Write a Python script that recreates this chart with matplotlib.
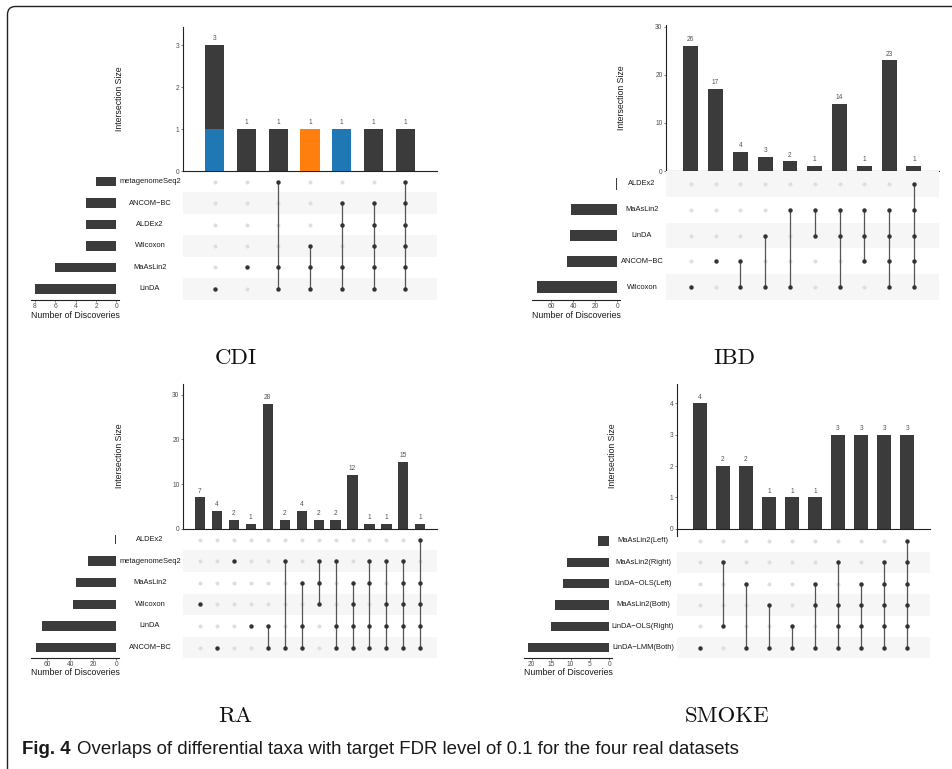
import numpy as np
import matplotlib
matplotlib.use("Agg")
import matplotlib.pyplot as plt
from matplotlib.path import Path
from matplotlib.patches import PathPatch
from matplotlib.lines import Line2D
import matplotlib.transforms as mtrans

# ---------------- data ----------------
MINUS = "\u2212"
ANC = "ANCOM" + MINUS + "BC"

CDI_SETS = ["metagenomeSeq2", ANC, "ALDEx2", "Wilcoxon", "MaAsLin2", "LinDA"]  # top -> bottom
CDI_SET_SIZES = [2, 3, 3, 3, 6, 8]
CDI_MEMBERS = [
    ["LinDA"],
    ["MaAsLin2"],
    ["metagenomeSeq2", "MaAsLin2", "LinDA"],
    ["Wilcoxon", "MaAsLin2", "LinDA"],
    [ANC, "ALDEx2", "MaAsLin2", "LinDA"],
    [ANC, "ALDEx2", "Wilcoxon", "MaAsLin2", "LinDA"],
    ["metagenomeSeq2", ANC, "ALDEx2", "Wilcoxon", "MaAsLin2", "LinDA"],
]
CDI_COUNTS = [3, 1, 1, 1, 1, 1, 1]
CDI_HL_VALUES = [1, 0, 0, 1, 1, 0, 0]
CDI_HL_COLORS = ["#1f77b4", None, None, "#ff7f0e", "#1f77b4", None, None]

IBD_SETS = ["ALDEx2", "MaAsLin2", "LinDA", ANC, "Wilcoxon"]
IBD_SET_SIZES = [1, 42, 43, 46, 73]
IBD_MEMBERS = [
    ["Wilcoxon"],
    [ANC],
    [ANC, "Wilcoxon"],
    ["LinDA", "Wilcoxon"],
    ["MaAsLin2", "Wilcoxon"],
    ["MaAsLin2", "LinDA"],
    ["MaAsLin2", "LinDA", "Wilcoxon"],
    ["MaAsLin2", "LinDA", ANC],
    ["MaAsLin2", "LinDA", ANC, "Wilcoxon"],
    ["ALDEx2", "MaAsLin2", "LinDA", ANC, "Wilcoxon"],
]
IBD_COUNTS = [26, 17, 4, 3, 2, 1, 14, 1, 23, 1]

RA_SETS = ["ALDEx2", "metagenomeSeq2", "MaAsLin2", "Wilcoxon", "LinDA", ANC]
RA_SET_SIZES = [1, 25, 35, 38, 65, 70]
RA_MEMBERS = [
    ["Wilcoxon"],
    [ANC],
    ["metagenomeSeq2"],
    ["LinDA"],
    ["LinDA", ANC],
    ["metagenomeSeq2", ANC],
    ["MaAsLin2", "LinDA", ANC],
    ["metagenomeSeq2", "MaAsLin2", "Wilcoxon"],
    ["metagenomeSeq2", "LinDA", ANC],
    ["MaAsLin2", "Wilcoxon", "LinDA", ANC],
    ["metagenomeSeq2", "MaAsLin2", "LinDA", ANC],
    ["metagenomeSeq2", "Wilcoxon", "LinDA", ANC],
    ["metagenomeSeq2", "MaAsLin2", "Wilcoxon", "LinDA", ANC],
    ["ALDEx2", "MaAsLin2", "Wilcoxon", "LinDA", ANC],
]
RA_COUNTS = [7, 4, 2, 1, 28, 2, 4, 2, 2, 12, 1, 1, 15, 1]

ML, MR, MB = "MaAsLin2(Left)", "MaAsLin2(Right)", "MaAsLin2(Both)"
LOL, LOR = "LinDA" + MINUS + "OLS(Left)", "LinDA" + MINUS + "OLS(Right)"
LMM = "LinDA" + MINUS + "LMM(Both)"
SM_SETS = [ML, MR, LOL, MB, LOR, LMM]
SM_SET_SIZES = [3, 11, 12, 14, 15, 21]
SM_MEMBERS = [
    [LMM],
    [MR, LOR],
    [LOL, LMM],
    [MB, LMM],
    [LOR, LMM],
    [LOL, MB, LMM],
    [MR, MB, LOR, LMM],
    [LOL, MB, LOR, LMM],
    [MR, LOL, MB, LOR, LMM],
    [ML, MR, LOL, MB, LOR, LMM],
]
SM_COUNTS = [4, 2, 2, 1, 1, 1, 3, 3, 3, 3]

TITLES = ["CDI", "IBD", "RA", "SMOKE"]
CAPTION_BOLD = "Fig. 4"
CAPTION_TEXT = "Overlaps of differential taxa with target FDR level of 0.1 for the four real datasets"

# ---------------- style ----------------
W, H = 952, 769
DARK = "#3b3b3b"
LIGHTDOT = "#dedede"
SHADE = "#f6f6f6"
TICKC = "#4d4d4d"
SANS = "Liberation Sans"

fig = plt.figure(figsize=(W / 100, H / 100), dpi=100)


def fbox(x0, y0, x1, y1):
    return [x0 / W, 1 - y1 / H, (x1 - x0) / W, (y1 - y0) / H]


def fx(x):
    return x / W


def fy(y):
    return 1 - y / H


def draw_upset(sets, set_sizes, members, counts, geo, hl_vals=None, hl_cols=None):
    n = len(counts)
    m = len(sets)
    xs = np.arange(n)
    # intersection bars
    axb = fig.add_axes(fbox(*geo["bar"]))
    axb.bar(xs, counts, width=0.6, color=DARK, zorder=2, linewidth=0)
    if hl_vals is not None:
        for i, (v, c) in enumerate(zip(hl_vals, hl_cols)):
            if v > 0:
                axb.bar(i, v, width=0.6, color=c, zorder=3, linewidth=0)
    for x, c in zip(xs, counts):
        axb.annotate(str(c), (x, c), xytext=(0, 2.0), textcoords="offset points",
                     ha="center", va="bottom", fontsize=4.8, color="#555555", family=SANS)
    axb.set_xlim(-1, n)
    axb.set_ylim(0, geo["ytop"])
    for s in ["top", "right"]:
        axb.spines[s].set_visible(False)
    for s in ["left", "bottom"]:
        axb.spines[s].set_linewidth(0.8)
        axb.spines[s].set_color("#222222")
    axb.set_xticks([])
    axb.set_yticks(geo["yticks"])
    axb.tick_params(axis="y", labelsize=4.8, length=1.5, width=0.5, pad=1,
                    color=TICKC, labelcolor=TICKC)
    for lab in axb.get_yticklabels():
        lab.set_family(SANS)
    axb.patch.set_alpha(0)

    # matrix
    axm = fig.add_axes(fbox(*geo["mat"]))
    axm.set_xlim(-1, n)
    axm.set_ylim(-0.5, m - 0.5)
    for r in range(0, m, 2):
        axm.axhspan(r - 0.5, r + 0.5, color=SHADE, lw=0, zorder=0)
    row_of = {s: m - 1 - i for i, s in enumerate(sets)}
    for j, mem in enumerate(members):
        ys = [row_of[s] for s in mem]
        others = [r for r in range(m) if r not in ys]
        axm.plot([j] * len(others), others, "o", ms=2.9, color=LIGHTDOT, mec="none", zorder=1)
        if len(ys) > 1:
            axm.plot([j, j], [min(ys), max(ys)], "-", color="#555555", lw=0.9, zorder=2)
        axm.plot([j] * len(ys), ys, "o", ms=3.2, color="#333333", mec="none", zorder=3)
    axm.axis("off")

    # set sizes
    ss0, ss1 = geo["ss"]
    axs = fig.add_axes(fbox(ss0, geo["mat"][1], ss1, geo["mat"][3]))
    rows = [m - 1 - i for i in range(m)]
    axs.barh(rows, set_sizes, height=0.44, color=DARK, linewidth=0)
    axs.set_ylim(-0.5, m - 0.5)
    axs.set_xlim(*geo["ss_xlim"])
    for s in ["top", "right", "left"]:
        axs.spines[s].set_visible(False)
    axs.spines["bottom"].set_linewidth(0.8)
    axs.spines["bottom"].set_color("#222222")
    axs.set_yticks([])
    axs.set_xticks(geo["ss_ticks"])
    axs.tick_params(axis="x", labelsize=4.8, length=1.5, width=0.5, pad=0.8,
                    color=TICKC, labelcolor=TICKC)
    for lab in axs.get_xticklabels():
        lab.set_family(SANS)
    axs.patch.set_alpha(0)

    # set labels
    trans = mtrans.blended_transform_factory(fig.transFigure, axm.transData)
    for i, s in enumerate(sets):
        fig.text(fx(geo["label_x"]), m - 1 - i, s, transform=trans, ha="center",
                 va="center", fontsize=5.4, color="#1a1a1a", family=SANS)

    # axis titles
    fig.text(fx(geo["ylab"][0]), fy(geo["ylab"][1]), "Intersection Size", rotation=90,
             ha="center", va="center", fontsize=6.3, color="#1a1a1a", family=SANS)
    fig.text(fx(geo["xlab"][0]), fy(geo["xlab"][1]), "Number of Discoveries",
             ha="center", va="center", fontsize=6.3, color="#1a1a1a", family=SANS)
    return axb


GEO_CDI = dict(bar=(183, 27, 437, 171), ytop=3.43, yticks=[0, 1, 2, 3],
               mat=(183, 171, 437, 299.5), ss=(31, 119), ss_xlim=(8.38, -0.25),
               ss_ticks=[0, 2, 4, 6, 8], label_x=150, ylab=(119, 99), xlab=(75, 315))
GEO_IBD = dict(bar=(666, 25, 938.7, 171), ytop=30.35, yticks=[0, 10, 20, 30],
               mat=(666, 171, 938.7, 300), ss=(532, 620), ss_xlim=(77.7, -2.3),
               ss_ticks=[0, 20, 40, 60], label_x=642, ylab=(621.7, 98), xlab=(576.7, 315))
GEO_RA = dict(bar=(183, 384, 437.3, 528.7), ytop=32.4, yticks=[0, 10, 20, 30],
              mat=(183, 528.7, 437.3, 658.3), ss=(31, 119), ss_xlim=(74.2, -2.35),
              ss_ticks=[0, 20, 40, 60], label_x=150, ylab=(119, 456), xlab=(75.3, 672.7))
GEO_SM = dict(bar=(676.7, 384, 930.3, 528.7), ytop=4.62, yticks=[0, 1, 2, 3, 4],
              mat=(676.7, 530.3, 930.3, 658.3), ss=(524.3, 612.3), ss_xlim=(21.94, -0.8),
              ss_ticks=[0, 5, 10, 15, 20], label_x=643, ylab=(612.7, 456), xlab=(568.3, 672.7))

draw_upset(CDI_SETS, CDI_SET_SIZES, CDI_MEMBERS, CDI_COUNTS, GEO_CDI, CDI_HL_VALUES, CDI_HL_COLORS)
draw_upset(IBD_SETS, IBD_SET_SIZES, IBD_MEMBERS, IBD_COUNTS, GEO_IBD)
draw_upset(RA_SETS, RA_SET_SIZES, RA_MEMBERS, RA_COUNTS, GEO_RA)
draw_upset(SM_SETS, SM_SET_SIZES, SM_MEMBERS, SM_COUNTS, GEO_SM)

# small extension of the SMOKE y axis below the baseline
fig.add_artist(Line2D([fx(676.7), fx(676.7)], [fy(528.7), fy(535.7)], color="#222222",
                      lw=0.8, transform=fig.transFigure))

# panel titles
for t, (cx, cy) in zip(TITLES, [(235.5, 358.5), (734.7, 358.5), (235, 716.3), (727, 716.3)]):
    fig.text(fx(cx), fy(cy), t, ha="center", va="center", fontsize=16.5,
             family=["cmr10", "DejaVu Serif"], color="#111111")

# frame with rounded top-left corner
verts = [(7.5, 769), (7.5, 14.5), (7.5, 6.5), (15.5, 6.5), (952, 6.5)]
codes = [Path.MOVETO, Path.LINETO, Path.CURVE3, Path.CURVE3, Path.LINETO]
path = Path([(fx(x), fy(y)) for x, y in verts], codes)
fig.add_artist(PathPatch(path, fill=False, lw=1.0, edgecolor="#222222", transform=fig.transFigure))

# caption
cap_fam = SANS
cap_y = fy(750)
t1 = fig.text(fx(22), cap_y, CAPTION_BOLD, fontweight="bold", fontsize=11, family=cap_fam,
              va="center", ha="left", color="#1a1a1a")
t2 = fig.text(fx(77), cap_y, CAPTION_TEXT, fontsize=11, family=cap_fam,
              va="center", ha="left", color="#1a1a1a")
fig.canvas.draw()
r = fig.canvas.get_renderer()
w2 = t2.get_window_extent(r).width
size = 11 * 665.0 / w2
t1.set_fontsize(size)
t2.set_fontsize(size)
fig.canvas.draw()
w1 = t1.get_window_extent(r).width
t2.set_x(fx(22 + w1 + 6))

fig.savefig("out.png", dpi=100)
